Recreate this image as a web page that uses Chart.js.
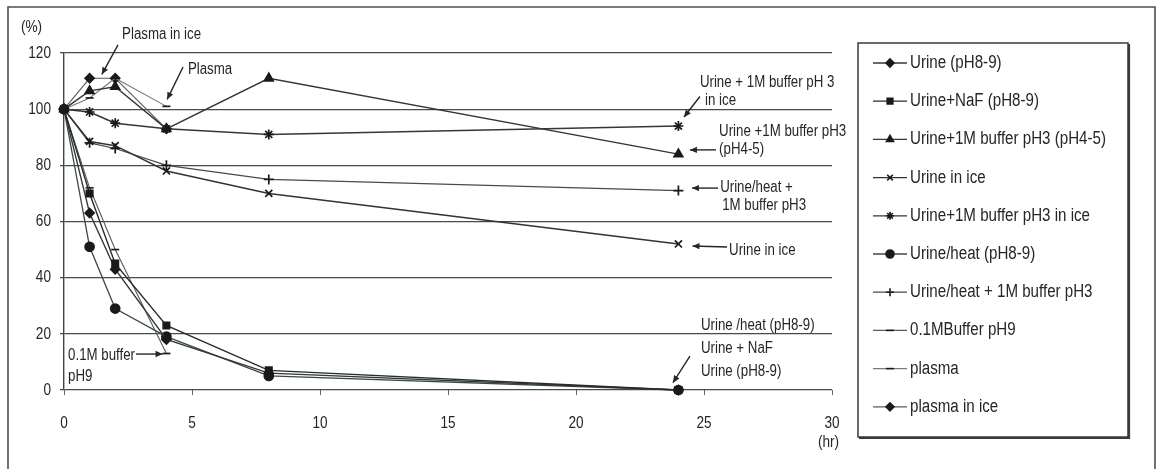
<!DOCTYPE html>
<html>
<head>
<meta charset="utf-8">
<script src="https://cdn.jsdelivr.net/npm/chart.js@4/dist/chart.umd.min.js"></script>
<style>
  html, body { margin: 0; padding: 0; background: #fff; }
  #wrap { width: 1161px; height: 469px; }
</style>
</head>
<body>
<div id="wrap"><canvas id="c" width="1161" height="469"></canvas></div>
<script>
// Sampling times (hours)
const hours = [0, 1, 2, 4, 8, 24];

// Remaining amount (%) for each sample condition
const urine = [100, 63, 43, 18, 6, 0];
const urineNaF = [100, 70, 45, 23, 7, 0];
const urineBufferPH3 = [100, 106.5, 108, 93, 111, 84];
const urineInIce = [100, 88.5, 87, 78, 70, 52];
const urineBufferInIce = [100, 99, 95, 93, 91, 94];
const urineHeat = [100, 51, 29, 19, 5, 0];
const urineHeatBuffer = [100, 88, 86, 80, 75, 71];
const buffer01pH9 = [100, 72, 50, 13];
const plasma = [100, 104, 111, 101];
const plasmaInIce = [100, 111, 111, 93];

const seriesLabels = [
  'Urine (pH8-9)',
  'Urine+NaF (pH8-9)',
  'Urine+1M buffer pH3 (pH4-5)',
  'Urine in ice',
  'Urine+1M buffer pH3 in ice',
  'Urine/heat (pH8-9)',
  'Urine/heat + 1M buffer pH3',
  '0.1MBuffer pH9',
  'plasma',
  'plasma in ice'
];

const xTicks = [0, 5, 10, 15, 20, 25, 30];
const yTicks = [0, 20, 40, 60, 80, 100, 120];

// Callout labels placed in data units [x, y]
const callouts = [
  { lines: ['Plasma in ice'], at: [2.27, 126.4], arrow: [[2.11, 122.9], [1.48, 112.4]] },
  { lines: ['Plasma'], at: [4.84, 114], arrow: [[4.65, 115], [4.03, 103.5]] },
  { lines: ['Urine + 1M buffer pH 3', 'in ice'], at: [24.84, 109.3], indent: [0, 0.2], arrow: [[24.84, 104.5], [24.22, 97.2]] },
  { lines: ['Urine +1M buffer pH3', '(pH4-5)'], at: [25.59, 91.9], arrow: [[25.47, 85.5], [24.45, 85.5]] },
  { lines: ['Urine/heat +', '1M buffer pH3'], at: [25.63, 71.9], indent: [0, 0.08], arrow: [[25.55, 71.9], [24.53, 71.9]] },
  { lines: ['Urine in ice'], at: [25.98, 49.5], arrow: [[25.9, 50.9], [24.55, 51.3]] },
  { lines: ['Urine /heat (pH8-9)', 'Urine + NaF', 'Urine (pH8-9)'], at: [24.88, 23.1], gap: 8.3, arrow: [[24.45, 12.1], [23.79, 2.6]] },
  { lines: ['0.1M buffer', 'pH9'], at: [0.16, 12.1], gap: 7.2, arrow: [[2.81, 12.8], [3.85, 12.8]] }
];

const FONT = "'Liberation Sans Narrow', 'Arial Narrow', 'Liberation Sans', Arial, sans-serif";
const INK = '#262626';

function toPoints(values) {
  return values.map((v, i) => ({ x: hours[i], y: v }));
}

// order: lower values are painted on top
const styles = [
  { data: urine, point: 'rectRot', r: 4.5, color: '#2f3a36', width: 1.4, order: 1 },
  { data: urineNaF, point: 'rect', r: 4.5, color: '#2a2a2a', width: 1.4, order: 0 },
  { data: urineBufferPH3, point: 'triangle', r: 5, color: '#353535', width: 1.4, order: 2 },
  { data: urineInIce, point: 'crossRot', r: 5, color: '#333', width: 1.5, order: 3 },
  { data: urineBufferInIce, point: 'star', r: 5, color: '#2f3a36', width: 1.5, order: 4 },
  { data: urineHeat, point: 'circle', r: 4.5, color: '#3b4a44', width: 1.3, order: 5 },
  { data: urineHeatBuffer, point: 'cross', r: 5, color: '#4a4a4a', width: 1.2, order: 6 },
  { data: buffer01pH9, point: 'line', r: 4, color: '#5a5a5a', width: 1.1, order: 7 },
  { data: plasma, point: 'line', r: 4, color: '#7a7a7a', width: 1.1, order: 8 },
  { data: plasmaInIce, point: 'rectRot', r: 4.5, color: '#5a5a5a', width: 1.1, order: 9 }
];

const datasets = styles.map((s, i) => ({
  label: seriesLabels[i],
  data: toPoints(s.data),
  order: s.order,
  showLine: true,
  borderColor: s.color,
  borderWidth: s.width,
  pointStyle: s.point,
  pointRadius: s.r,
  pointBackgroundColor: '#1a1a1a',
  pointBorderColor: '#1a1a1a',
  pointBorderWidth: 1.7,
  tension: 0,
  clip: false
}));

// Draws horizontally condensed text (narrow face look)
function narrowText(ctx, text, x, y, size, sx, align) {
  ctx.save();
  ctx.font = size + 'px ' + FONT;
  ctx.textBaseline = 'middle';
  ctx.textAlign = 'left';
  const w = ctx.measureText(text).width * sx;
  let left = x;
  if (align === 'right') left = x - w;
  else if (align === 'center') left = x - w / 2;
  ctx.translate(left, y);
  ctx.scale(sx, 1);
  ctx.fillText(text, 0, 0);
  ctx.restore();
}

function arrow(ctx, x1, y1, x2, y2) {
  ctx.beginPath();
  ctx.moveTo(x1, y1);
  ctx.lineTo(x2, y2);
  ctx.stroke();
  const a = Math.atan2(y2 - y1, x2 - x1);
  const L = 7, W = 3.2;
  ctx.beginPath();
  ctx.moveTo(x2, y2);
  ctx.lineTo(x2 - L * Math.cos(a) + W * Math.sin(a), y2 - L * Math.sin(a) - W * Math.cos(a));
  ctx.lineTo(x2 - L * Math.cos(a) - W * Math.sin(a), y2 - L * Math.sin(a) + W * Math.cos(a));
  ctx.closePath();
  ctx.fill();
}

function drawMarker(ctx, style, r, x, y) {
  const opts = { pointStyle: style, radius: r, borderWidth: 1.6, rotation: 0 };
  ctx.fillStyle = '#1a1a1a';
  ctx.strokeStyle = '#1a1a1a';
  ctx.lineWidth = 1.6;
  if (Chart.helpers && Chart.helpers.drawPoint) {
    Chart.helpers.drawPoint(ctx, opts, x, y);
  } else {
    ctx.beginPath();
    ctx.arc(x, y, r, 0, Math.PI * 2);
    ctx.fill();
  }
}

const framePlugin = {
  id: 'frame',
  beforeDraw(chart) {
    const ctx = chart.ctx;
    ctx.save();
    ctx.fillStyle = '#fff';
    ctx.fillRect(0, 0, chart.width, chart.height);
    ctx.strokeStyle = '#4a524f';
    ctx.lineWidth = 1.6;
    ctx.beginPath();
    ctx.moveTo(8, chart.height + 2);
    ctx.lineTo(8, 7);
    ctx.lineTo(1155, 7);
    ctx.lineTo(1155, chart.height + 2);
    ctx.stroke();
    ctx.restore();
  },
  afterDraw(chart) {
    const ctx = chart.ctx;
    const xs = chart.scales.x, ys = chart.scales.y;
    ctx.save();
    ctx.fillStyle = INK;

    // axis tick labels
    yTicks.forEach(v => narrowText(ctx, String(v), 51, ys.getPixelForValue(v), 17, 0.8, 'right'));
    xTicks.forEach(v => narrowText(ctx, String(v), xs.getPixelForValue(v), 423, 17, 0.8, 'center'));
    narrowText(ctx, '(%)', 21, 28, 16, 0.85, 'left');
    narrowText(ctx, '(hr)', 818, 443, 16, 0.85, 'left');

    // callouts
    ctx.strokeStyle = INK;
    ctx.lineWidth = 1.4;
    callouts.forEach(c => {
      const px = xs.getPixelForValue(c.at[0]);
      const gapPx = (c.gap ? c.gap : 6.4);
      c.lines.forEach((t, k) => {
        const ind = c.indent ? xs.getPixelForValue(c.at[0] + c.indent[k]) - px : 0;
        const py = ys.getPixelForValue(c.at[1] - k * gapPx);
        narrowText(ctx, t, px + ind, py, 16, 0.83, 'left');
      });
      const a = c.arrow;
      arrow(ctx, xs.getPixelForValue(a[0][0]), ys.getPixelForValue(a[0][1]),
                 xs.getPixelForValue(a[1][0]), ys.getPixelForValue(a[1][1]));
    });

    // legend box
    const lx = 858, ly = 43, lw = 270, lh = 394;
    ctx.strokeStyle = '#3a3a3a';
    ctx.lineWidth = 1.5;
    ctx.strokeRect(lx, ly, lw, lh);
    ctx.lineWidth = 2.2;
    ctx.beginPath();
    ctx.moveTo(lx + 1, ly + lh + 1);
    ctx.lineTo(lx + lw + 1, ly + lh + 1);
    ctx.lineTo(lx + lw + 1, ly + 1);
    ctx.stroke();

    chart.data.datasets.forEach((ds, i) => {
      const cy = 63 + i * 38.2;
      ctx.strokeStyle = ds.borderColor;
      ctx.lineWidth = 1.3;
      ctx.beginPath();
      ctx.moveTo(873, cy);
      ctx.lineTo(907, cy);
      ctx.stroke();
      drawMarker(ctx, ds.pointStyle, Math.min(ds.pointRadius, 4), 890, cy);
      ctx.fillStyle = INK;
      narrowText(ctx, ds.label, 910, cy, 18, 0.84, 'left');
    });
    ctx.restore();
  }
};

new Chart(document.getElementById('c'), {
  type: 'scatter',
  data: { datasets },
  plugins: [framePlugin],
  options: {
    responsive: false,
    devicePixelRatio: 1,
    animation: false,
    events: [],
    layout: { padding: { left: 0, right: 329, top: 53, bottom: 0 } },
    plugins: {
      legend: { display: false },
      tooltip: { enabled: false },
      title: { display: false }
    },
    scales: {
      x: {
        type: 'linear',
        min: 0,
        max: 30,
        afterFit(s) { s.height = 79; },
        afterBuildTicks(s) { s.ticks = xTicks.map(v => ({ value: v })); },
        border: { display: false },
        grid: { drawOnChartArea: false, drawTicks: true, tickLength: 5, color: '#666', lineWidth: 1 },
        ticks: { color: 'rgba(0,0,0,0)', font: { family: FONT, size: 14 }, padding: 22 }
      },
      y: {
        type: 'linear',
        min: 0,
        max: 120,
        afterFit(s) { s.width = 64; },
        afterBuildTicks(s) { s.ticks = yTicks.map(v => ({ value: v })); },
        border: { display: true, color: '#444', width: 1.4 },
        grid: { color: '#4a4a4a', lineWidth: 1.3, drawTicks: true, tickLength: 4 },
        ticks: { color: 'rgba(0,0,0,0)', font: { family: FONT, size: 14 }, padding: 12 }
      }
    }
  }
});
</script>
</body>
</html>
